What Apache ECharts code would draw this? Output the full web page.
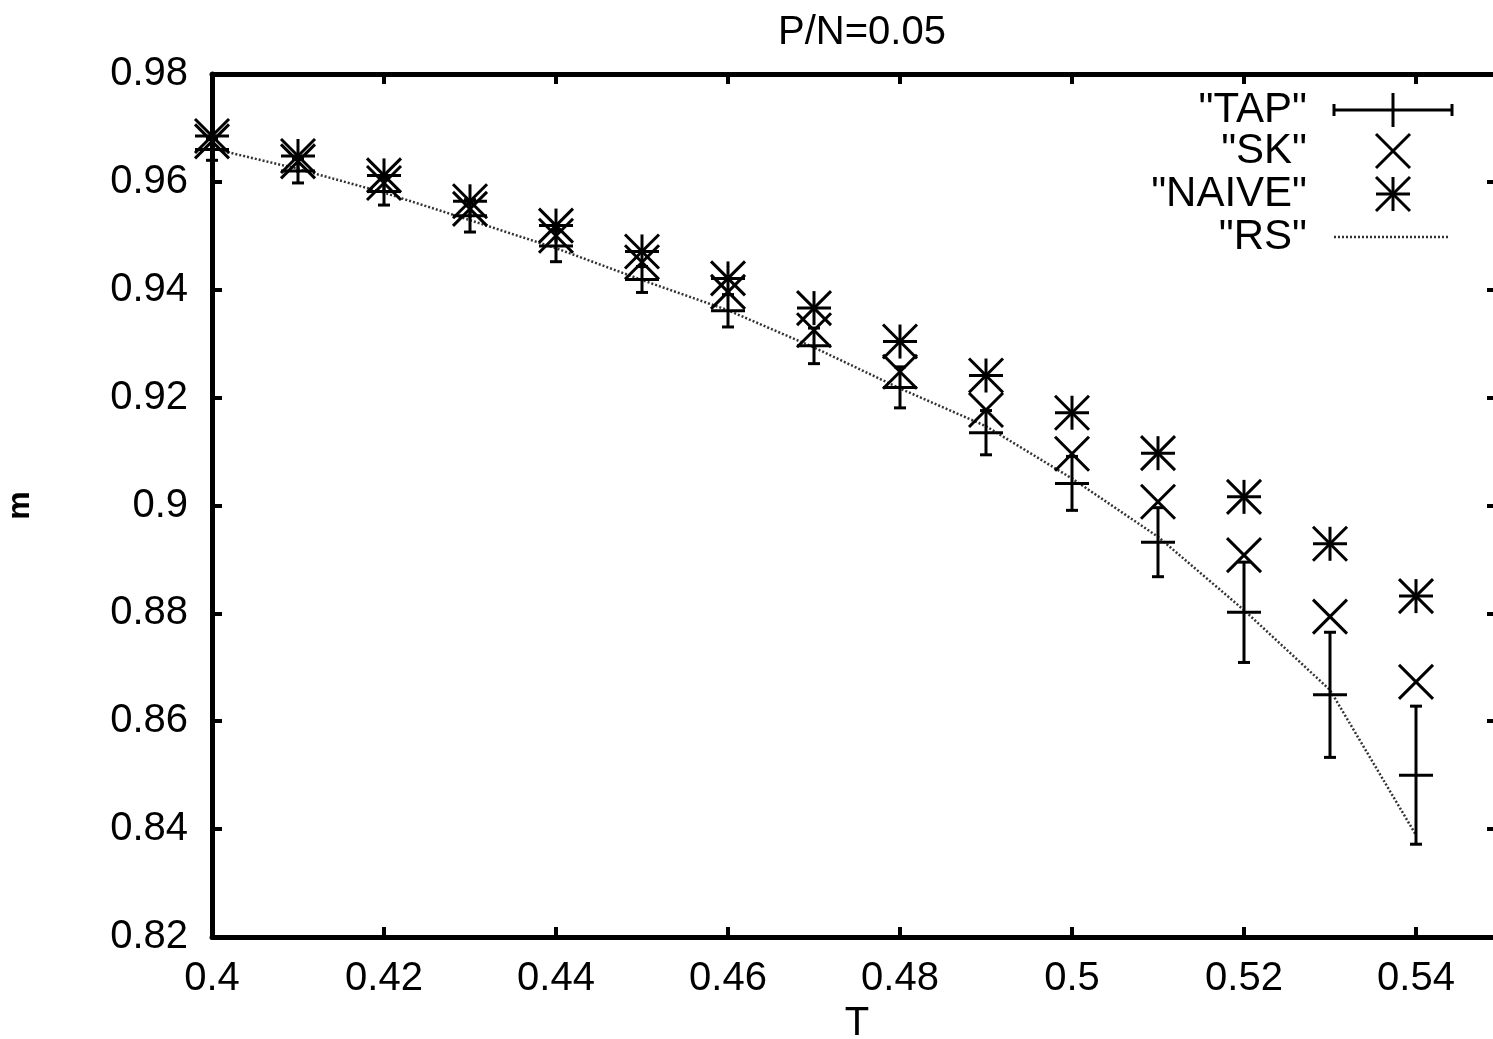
<!DOCTYPE html>
<html>
<head>
<meta charset="utf-8">
<script src="https://cdn.jsdelivr.net/npm/echarts@6/dist/echarts.min.js"></script>
<style>
html,body{margin:0;padding:0;background:#fff;overflow:hidden;}
#chart{width:1493px;height:1039px;}
</style>
</head>
<body>
<div id="chart"></div>
<script>
// ---- data ----
const T = [0.40, 0.41, 0.42, 0.43, 0.44, 0.45, 0.46, 0.47, 0.48, 0.49, 0.50, 0.51, 0.52, 0.53, 0.54];
const tapM   = [0.9660, 0.9620, 0.9582, 0.9537, 0.9481, 0.9419, 0.9361, 0.9296, 0.9219, 0.9135, 0.9041, 0.8932, 0.8802, 0.8649, 0.8500];
const tapErr = [0.0020, 0.0022, 0.0025, 0.0030, 0.0029, 0.0024, 0.0030, 0.0033, 0.0038, 0.0041, 0.0050, 0.0064, 0.0093, 0.0116, 0.0128];
const skM    = [0.9675, 0.9638, 0.9598, 0.9550, 0.9500, 0.9451, 0.9396, 0.9325, 0.9248, 0.9177, 0.9096, 0.9007, 0.8908, 0.8794, 0.8673];
const naiveM = [0.9685, 0.9648, 0.9612, 0.9564, 0.9519, 0.9471, 0.9421, 0.9366, 0.9304, 0.9241, 0.9172, 0.9097, 0.9016, 0.8929, 0.8832];
const rsM    = [0.9662, 0.9624, 0.9580, 0.9529, 0.9477, 0.9418, 0.9362, 0.9293, 0.9217, 0.9147, 0.9050, 0.8942, 0.8806, 0.8658, 0.8389];
const xTicks = { min: 0.40, max: 0.55, interval: 0.02 };
const yTicks = { min: 0.82, max: 0.98, interval: 0.02 };
const titleText = 'P/N=0.05';
const legendNames = ['"TAP"', '"SK"', '"NAIVE"', '"RS"'];

const FONT = '"Liberation Sans", Arial, Helvetica, sans-serif';
const S = 17;       // marker half size
const CAP = 6;      // error bar cap half width
const LW = 3;
const stroke = { stroke: '#000', lineWidth: LW, fill: null };

function seg(x1, y1, x2, y2) {
  return { type: 'line', shape: { x1, y1, x2, y2 }, style: stroke };
}
function plusAt(cx, cy) { return [seg(cx - S, cy, cx + S, cy), seg(cx, cy - S, cx, cy + S)]; }
function crossAt(cx, cy) { return [seg(cx - S, cy - S, cx + S, cy + S), seg(cx - S, cy + S, cx + S, cy - S)]; }

const tapData = T.map((t, i) => [t, tapM[i], tapErr[i]]);
const skData = T.map((t, i) => [t, skM[i]]);
const naiveData = T.map((t, i) => [t, naiveM[i]]);
const rsData = T.map((t, i) => [t, rsM[i]]);

const chart = echarts.init(document.getElementById('chart'), null, { renderer: 'canvas' });

const axisLine = { show: true, lineStyle: { color: '#000', width: 5 } };
const axisTick = { show: true, inside: true, length: 10, lineStyle: { color: '#000', width: 4 } };
const rightTick = { show: true, inside: true, length: 15, lineStyle: { color: '#000', width: 4 } };

const option = {
  backgroundColor: '#fff',
  animation: false,
  title: {
    text: titleText, left: 857, top: 8, textAlign: 'center',
    textStyle: { fontFamily: FONT, fontSize: 40, fontWeight: 'normal', color: '#000' }
  },
  grid: { left: 212, top: 74, width: 1290, height: 863, containLabel: false, outerBoundsMode: 'none' },
  xAxis: [{
    type: 'value', min: xTicks.min, max: xTicks.max, interval: xTicks.interval,
    position: 'bottom',
    name: 'T', nameLocation: 'middle', nameGap: 61,
    nameTextStyle: { fontFamily: FONT, fontSize: 40, color: '#000' },
    axisLine, axisTick,
    axisLabel: { show: true, margin: 22, showMaxLabel: false, fontFamily: FONT, fontSize: 40, color: '#000' },
    splitLine: { show: false }
  }, {
    type: 'value', min: xTicks.min, max: xTicks.max, interval: xTicks.interval,
    position: 'top', axisLine, axisTick, axisLabel: { show: false }, splitLine: { show: false }
  }],
  yAxis: [{
    type: 'value', min: yTicks.min, max: yTicks.max, interval: yTicks.interval,
    position: 'left',
    name: 'm', nameLocation: 'middle', nameGap: 176, nameRotate: 90,
    nameTextStyle: { fontFamily: FONT, fontSize: 32, fontWeight: 'bold', color: '#000' },
    axisLine, axisTick,
    axisLabel: { show: true, margin: 24, fontFamily: FONT, fontSize: 40, color: '#000' },
    splitLine: { show: false }
  }, {
    type: 'value', min: yTicks.min, max: yTicks.max, interval: yTicks.interval,
    position: 'right', axisLine, axisTick: rightTick, axisLabel: { show: false }, splitLine: { show: false }
  }],
  series: [
    {
      name: legendNames[3], type: 'line', data: rsData, showSymbol: false, symbol: 'none',
      lineStyle: { color: '#333', width: 2.5, type: [2, 2] }, z: 2, clip: false
    },
    {
      name: legendNames[0], type: 'custom', data: tapData, clip: false, z: 3,
      encode: { x: 0, y: 1 },
      renderItem: function (params, api) {
        const x = api.value(0), y = api.value(1), e = api.value(2);
        const c = api.coord([x, y]);
        const top = api.coord([x, y + e]);
        const bot = api.coord([x, y - e]);
        return {
          type: 'group', children: [
            seg(c[0], top[1], c[0], bot[1]),
            seg(c[0] - CAP, top[1], c[0] + CAP, top[1]),
            seg(c[0] - CAP, bot[1], c[0] + CAP, bot[1]),
            seg(c[0] - S, c[1], c[0] + S, c[1])
          ]
        };
      }
    },
    {
      name: legendNames[1], type: 'custom', data: skData, clip: false, z: 3,
      encode: { x: 0, y: 1 },
      renderItem: function (params, api) {
        const c = api.coord([api.value(0), api.value(1)]);
        return { type: 'group', children: crossAt(c[0], c[1]) };
      }
    },
    {
      name: legendNames[2], type: 'custom', data: naiveData, clip: false, z: 3,
      encode: { x: 0, y: 1 },
      renderItem: function (params, api) {
        const c = api.coord([api.value(0), api.value(1)]);
        return { type: 'group', children: plusAt(c[0], c[1]).concat(crossAt(c[0], c[1])) };
      }
    }
  ],
  graphic: (function () {
    const tx = 1307, sx1 = 1334, sx2 = 1452, sc = 1393;
    const rows = [110, 151, 194, 237];
    const els = [];
    legendNames.forEach((n, i) => {
      els.push({ type: 'text', x: tx, y: rows[i], style: { text: n, textAlign: 'right', textVerticalAlign: 'middle', font: '42px ' + FONT, fill: '#000' } });
    });
    // TAP sample
    els.push({ type: 'group', children: [
      seg(sx1, rows[0], sx2, rows[0]),
      seg(sx1, rows[0] - CAP, sx1, rows[0] + CAP),
      seg(sx2, rows[0] - CAP, sx2, rows[0] + CAP),
      seg(sc, rows[0] - S, sc, rows[0] + S)
    ]});
    els.push({ type: 'group', children: crossAt(sc, rows[1]) });
    els.push({ type: 'group', children: plusAt(sc, rows[2]).concat(crossAt(sc, rows[2])) });
    els.push({ type: 'line', shape: { x1: sx1, y1: rows[3], x2: sx2 - 2, y2: rows[3] }, style: { stroke: '#333', lineWidth: 2.5, lineDash: [2, 2] } });
    return els;
  })()
};
chart.setOption(option);
</script>
</body>
</html>
